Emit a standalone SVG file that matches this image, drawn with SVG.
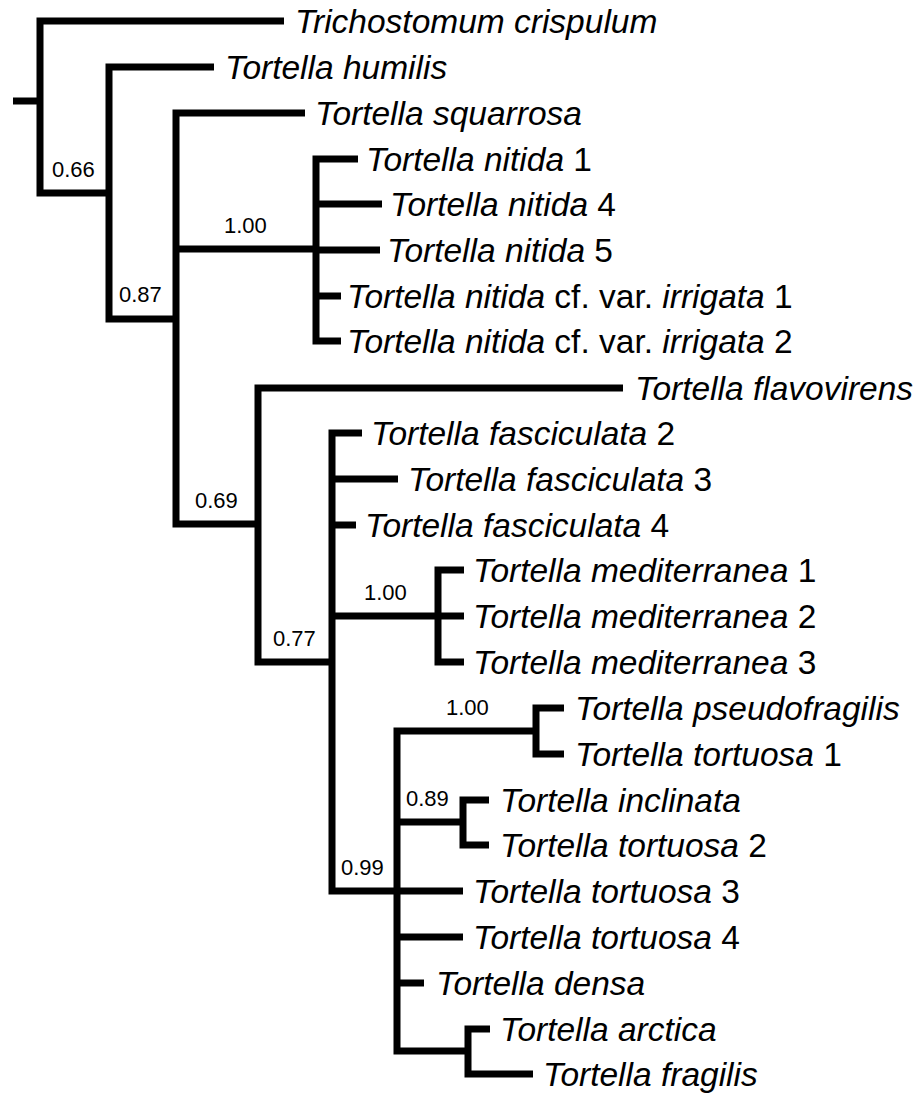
<svg xmlns="http://www.w3.org/2000/svg" width="920" height="1093" viewBox="0 0 920 1093">
<style>
.br{fill:none;stroke:#000;stroke-width:7;stroke-linejoin:miter;stroke-linecap:butt}
.tx{font-family:"Liberation Sans",Arial,sans-serif;font-size:33.5px;fill:#000}
.it{font-style:italic}
.sp{font-family:"Liberation Sans",Arial,sans-serif;font-size:22px;fill:#000}
</style>
<rect width="920" height="1093" fill="#fff"/>
<g id="connectors">
<path class="br" d="M13 101H40"/>
<path class="br" d="M284 21H40V193H109"/>
<path class="br" d="M214 67H109V319H176"/>
<path class="br" d="M305 113H176V524H258"/>
<path class="br" d="M176 249H316"/>
<path class="br" d="M358 159H316V341H341"/>
<path class="br" d="M316 204H382"/>
<path class="br" d="M316 250H380"/>
<path class="br" d="M316 296H341"/>
<path class="br" d="M623 388H258V662H332"/>
<path class="br" d="M362 433H332V891H463"/>
<path class="br" d="M332 479H398"/>
<path class="br" d="M332 525H356"/>
<path class="br" d="M332 616H438"/>
<path class="br" d="M464 570H438V662H464"/>
<path class="br" d="M438 616H464"/>
<path class="br" d="M536 731H397V1051H468"/>
<path class="br" d="M397 822H463"/>
<path class="br" d="M397 937H463"/>
<path class="br" d="M397 983H424"/>
<path class="br" d="M564 708H536V754H564"/>
<path class="br" d="M489 800H463V845H489"/>
<path class="br" d="M490 1029H468V1074H533"/>
</g>
<g id="support">
<text class="sp" x="52" y="177">0.66</text>
<text class="sp" x="119" y="302">0.87</text>
<text class="sp" x="224" y="233">1.00</text>
<text class="sp" x="195" y="508">0.69</text>
<text class="sp" x="273" y="646">0.77</text>
<text class="sp" x="364" y="600">1.00</text>
<text class="sp" x="446" y="715">1.00</text>
<text class="sp" x="406" y="806">0.89</text>
<text class="sp" x="341" y="875">0.99</text>
</g>
<g id="t-trichostomum-crispulum"><text class="tx it" x="295" y="33">Trichostomum crispulum</text></g>
<g id="t-humilis"><text class="tx" x="225" y="79"><tspan class="it">Tortella humilis</tspan></text></g>
<g id="t-squarrosa"><text class="tx" x="315" y="125"><tspan class="it">Tortella squarrosa</tspan></text></g>
<g id="t-nitida-1"><text class="tx" x="366" y="171"><tspan class="it">Tortella nitida</tspan> 1</text></g>
<g id="t-nitida-4"><text class="tx" x="390" y="216"><tspan class="it">Tortella nitida</tspan> 4</text></g>
<g id="t-nitida-5"><text class="tx" x="387" y="262"><tspan class="it">Tortella nitida</tspan> 5</text></g>
<g id="t-irrigata-1"><text class="tx" x="347" y="308"><tspan class="it">Tortella nitida</tspan> cf. var. <tspan class="it">irrigata</tspan> 1</text></g>
<g id="t-irrigata-2"><text class="tx" x="347" y="353"><tspan class="it">Tortella nitida</tspan> cf. var. <tspan class="it">irrigata</tspan> 2</text></g>
<g id="t-flavovirens"><text class="tx" x="635" y="400"><tspan class="it">Tortella flavovirens</tspan></text></g>
<g id="t-fasciculata-2"><text class="tx" x="371" y="445"><tspan class="it">Tortella fasciculata</tspan> 2</text></g>
<g id="t-fasciculata-3"><text class="tx" x="408" y="491"><tspan class="it">Tortella fasciculata</tspan> 3</text></g>
<g id="t-fasciculata-4"><text class="tx" x="365" y="537"><tspan class="it">Tortella fasciculata</tspan> 4</text></g>
<g id="t-mediterranea-1"><text class="tx" x="473" y="582"><tspan class="it">Tortella mediterranea</tspan> 1</text></g>
<g id="t-mediterranea-2"><text class="tx" x="473" y="628"><tspan class="it">Tortella mediterranea</tspan> 2</text></g>
<g id="t-mediterranea-3"><text class="tx" x="473" y="674"><tspan class="it">Tortella mediterranea</tspan> 3</text></g>
<g id="t-pseudofragilis"><text class="tx" x="575" y="720"><tspan class="it">Tortella pseudofragilis</tspan></text></g>
<g id="t-tortuosa-1"><text class="tx" x="575" y="766"><tspan class="it">Tortella tortuosa</tspan> 1</text></g>
<g id="t-inclinata"><text class="tx" x="500" y="812"><tspan class="it">Tortella inclinata</tspan></text></g>
<g id="t-tortuosa-2"><text class="tx" x="500" y="857"><tspan class="it">Tortella tortuosa</tspan> 2</text></g>
<g id="t-tortuosa-3"><text class="tx" x="473" y="903"><tspan class="it">Tortella tortuosa</tspan> 3</text></g>
<g id="t-tortuosa-4"><text class="tx" x="473" y="949"><tspan class="it">Tortella tortuosa</tspan> 4</text></g>
<g id="t-densa"><text class="tx" x="436" y="995"><tspan class="it">Tortella densa</tspan></text></g>
<g id="t-arctica"><text class="tx" x="500" y="1041"><tspan class="it">Tortella arctica</tspan></text></g>
<g id="t-fragilis"><text class="tx" x="543" y="1086"><tspan class="it">Tortella fragilis</tspan></text></g>
</svg>
